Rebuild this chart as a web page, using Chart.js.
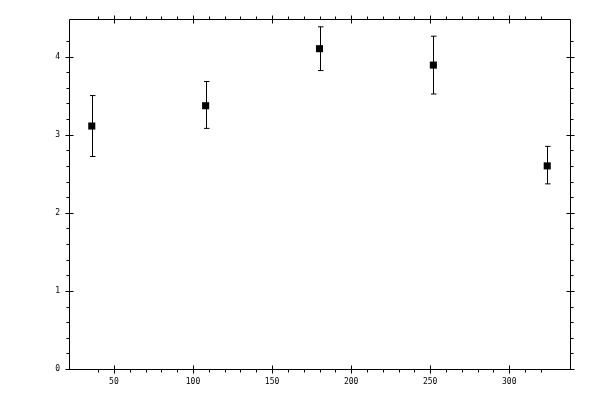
<!DOCTYPE html>
<html>
<head>
<meta charset="utf-8">
<script src="https://cdn.jsdelivr.net/npm/chart.js@4"></script>
<style>
  body { margin: 0; background: #fff; }
  #wrap { width: 600px; height: 400px; }
</style>
</head>
<body>
<div id="wrap"><canvas id="myChart"></canvas></div>
<script>
// data
const xs = [36, 108, 180, 252, 324]
const ys = [3.11, 3.37, 4.10, 3.89, 2.60]
const yHigh = [3.50, 3.68, 4.38, 4.26, 2.85]
const yLow = [2.72, 3.08, 3.82, 3.52, 2.37]

const xMin = 21.6, xMax = 338.4, xStep = 10
const yMin = 0, yMax = 4.48, yStep = 0.2

const pts = xs.map((x, i) => ({ x: x, y: ys[i] }))

const isMajor = (v, m) => Math.abs(v / m - Math.round(v / m)) < 1e-6

// error bars, drawn with the scales
const errorBars = {
  id: 'errorBars',
  afterDatasetsDraw(chart) {
    const c = chart.ctx, sx = chart.scales.x, sy = chart.scales.y
    c.save()
    c.strokeStyle = '#000'
    c.lineWidth = 1
    xs.forEach((x, i) => {
      const px = Math.round(sx.getPixelForValue(x)) + 0.5
      const top = sy.getPixelForValue(yHigh[i])
      const bot = sy.getPixelForValue(yLow[i])
      c.beginPath()
      c.moveTo(px, top); c.lineTo(px, bot)
      c.moveTo(px - 2.5, top); c.lineTo(px + 3, top)
      c.moveTo(px - 2.5, bot); c.lineTo(px + 3, bot)
      c.stroke()
    })
    c.restore()
  }
}

// box frame with major ticks crossing and minor ticks outside
const frame = {
  id: 'frame',
  afterDraw(chart) {
    const c = chart.ctx, a = chart.chartArea
    const sx = chart.scales.x, sy = chart.scales.y
    const L = Math.round(a.left) + 0.5, R = Math.round(a.right) + 0.5
    const T = Math.round(a.top) + 0.5, B = Math.round(a.bottom) + 0.5
    c.save()
    c.strokeStyle = '#000'
    c.lineWidth = 1
    c.beginPath()
    c.rect(L, T, R - L, B - T)
    sx.ticks.forEach(t => {
      if (!isMajor(t.value, xStep)) return
      const p = Math.round(sx.getPixelForValue(t.value)) + 0.5
      if (isMajor(t.value, 50)) {
        c.moveTo(p, B - 4); c.lineTo(p, B + 4)
        c.moveTo(p, T - 4); c.lineTo(p, T + 4)
      } else {
        c.moveTo(p, B); c.lineTo(p, B + 3)
        c.moveTo(p, T); c.lineTo(p, T - 3)
      }
    })
    sy.ticks.forEach(t => {
      if (!isMajor(t.value, yStep)) return
      const p = Math.round(sy.getPixelForValue(t.value)) + 0.5
      if (isMajor(t.value, 1)) {
        c.moveTo(L - 4, p); c.lineTo(L + 4, p)
        c.moveTo(R - 4, p); c.lineTo(R + 4, p)
      } else {
        c.moveTo(L, p); c.lineTo(L - 3, p)
        c.moveTo(R, p); c.lineTo(R + 3, p)
      }
    })
    c.stroke()
    c.restore()
  }
}

const ctx = document.getElementById('myChart')

new Chart(ctx, {
  type: 'scatter',
  data: {
    datasets: [{
      data: pts,
      pointStyle: 'rect',
      pointRadius: 5,
      backgroundColor: '#000',
      borderColor: '#000',
      borderWidth: 0,
    }],
  },
  options: {
    responsive: true,
    maintainAspectRatio: false,
    animation: false,
    layout: { padding: { top: 19, right: 30, left: 0, bottom: 0 } },
    plugins: { legend: { display: false }, tooltip: { enabled: false } },
    scales: {
      x: {
        type: 'linear',
        min: xMin, max: xMax,
        border: { display: false },
        grid: { display: false, drawTicks: false },
        ticks: {
          stepSize: xStep,
          autoSkip: false,
          maxRotation: 0,
          padding: 8,
          color: '#000',
          font: { family: 'DejaVu Sans Mono', size: 8 },
          callback: v => isMajor(v, 50) ? String(Math.round(v)) : '',
        },
        afterFit: s => { s.height = 31 },
      },
      y: {
        min: yMin, max: yMax,
        border: { display: false },
        grid: { display: false, drawTicks: false },
        ticks: {
          stepSize: yStep,
          autoSkip: false,
          padding: 9,
          color: '#000',
          font: { family: 'DejaVu Sans Mono', size: 8 },
          callback: v => isMajor(v, 1) ? String(Math.round(v)) : '',
        },
        afterFit: s => { s.width = 69 },
      },
    },
  },
  plugins: [errorBars, frame],
})
</script>
</body>
</html>
